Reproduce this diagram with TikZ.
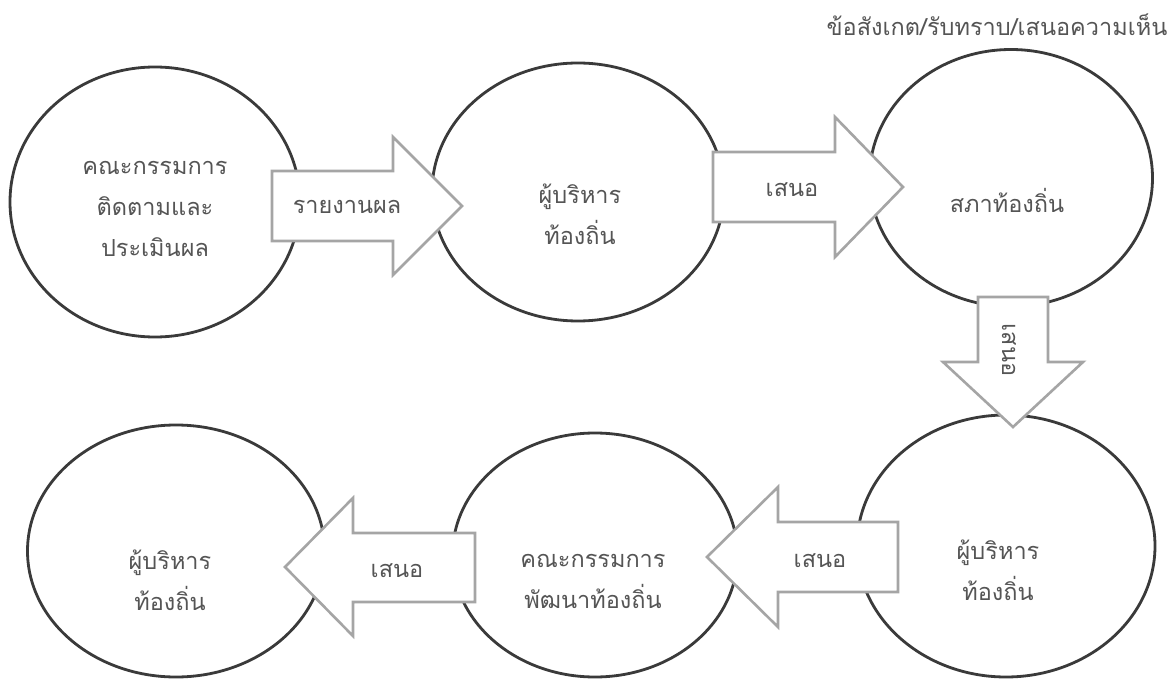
\documentclass[tikz,border=0pt]{standalone}
\usepackage{fontspec}
\setmainfont[Script=Thai]{Loma}
\usetikzlibrary{shapes.geometric}
\definecolor{ringcol}{HTML}{3A3A3A}
\definecolor{arrcol}{HTML}{A5A5A5}
\definecolor{txtcol}{HTML}{555555}
\begin{document}
\begin{tikzpicture}[x=1pt,y=-1pt,
  ring/.style={ellipse,draw=ringcol,line width=2.8pt,inner sep=0pt,outer sep=0pt},
  blockarrow/.style={draw=arrcol,fill=white,line width=2.6pt,line join=miter},
  lbl/.style={text=txtcol,font=\fontsize{23.5}{41}\selectfont,align=center,inner sep=0pt}]
\useasboundingbox[fill=white] (0,0) rectangle (1173,679);
% circles
\node[ring,minimum width=290pt,minimum height=270pt] (c1) at (155,202) {};
\node[ring,minimum width=292pt,minimum height=258pt] (c2) at (578,192) {};
\node[ring,minimum width=283pt,minimum height=257pt] (c3) at (1011,178) {};
\node[ring,minimum width=298pt,minimum height=262pt] (c4) at (1006,546) {};
\node[ring,minimum width=285pt,minimum height=244pt] (c5) at (595,555) {};
\node[ring,minimum width=297pt,minimum height=252pt] (c6) at (176,551) {};
% block arrows
\draw[blockarrow] (272,171) -- (393,171) -- (393,137) -- (462,206) -- (393,275) -- (393,241) -- (272,241) -- cycle;
\draw[blockarrow] (713,152) -- (835,152) -- (835,117) -- (903,187) -- (835,257) -- (835,222) -- (713,222) -- cycle;
\draw[blockarrow] (978,297) -- (1048,297) -- (1048,362) -- (1083,362) -- (1013,427) -- (943,362) -- (978,362) -- cycle;
\draw[blockarrow] (898,522) -- (778,522) -- (778,487) -- (707,557) -- (778,627) -- (778,592) -- (898,592) -- cycle;
\draw[blockarrow] (475,533) -- (353,533) -- (353,498) -- (285,567) -- (353,636) -- (353,602) -- (475,602) -- cycle;
% texts
\node[lbl] (t1) at (155,209) {คณะกรรมการ\\ติดตามและ\\ประเมินผล};
\node[lbl] (t2) at (580,214) {ผู้บริหาร\\ท้องถิ่น};
\node[lbl] (t3) at (1007,200) {สภาท้องถิ่น};
\node[lbl] (t4) at (998,570) {ผู้บริหาร\\ท้องถิ่น};
\node[lbl] (t5) at (593,581) {คณะกรรมการ\\พัฒนาท้องถิ่น};
\node[lbl] (t6) at (170,580) {ผู้บริหาร\\ท้องถิ่น};
\node[lbl] (a1) at (347,207) {รายงานผล};
\node[lbl] (a2) at (792,190) {เสนอ};
\node[lbl,rotate=-90] (a3) at (1009,350) {เสนอ};
\node[lbl] (a4) at (820,561) {เสนอ};
\node[lbl] (a5) at (397,571) {เสนอ};
\node[lbl] (note) at (997,25) {ข้อสังเกต/รับทราบ/เสนอความเห็น};
\end{tikzpicture}
\end{document}
